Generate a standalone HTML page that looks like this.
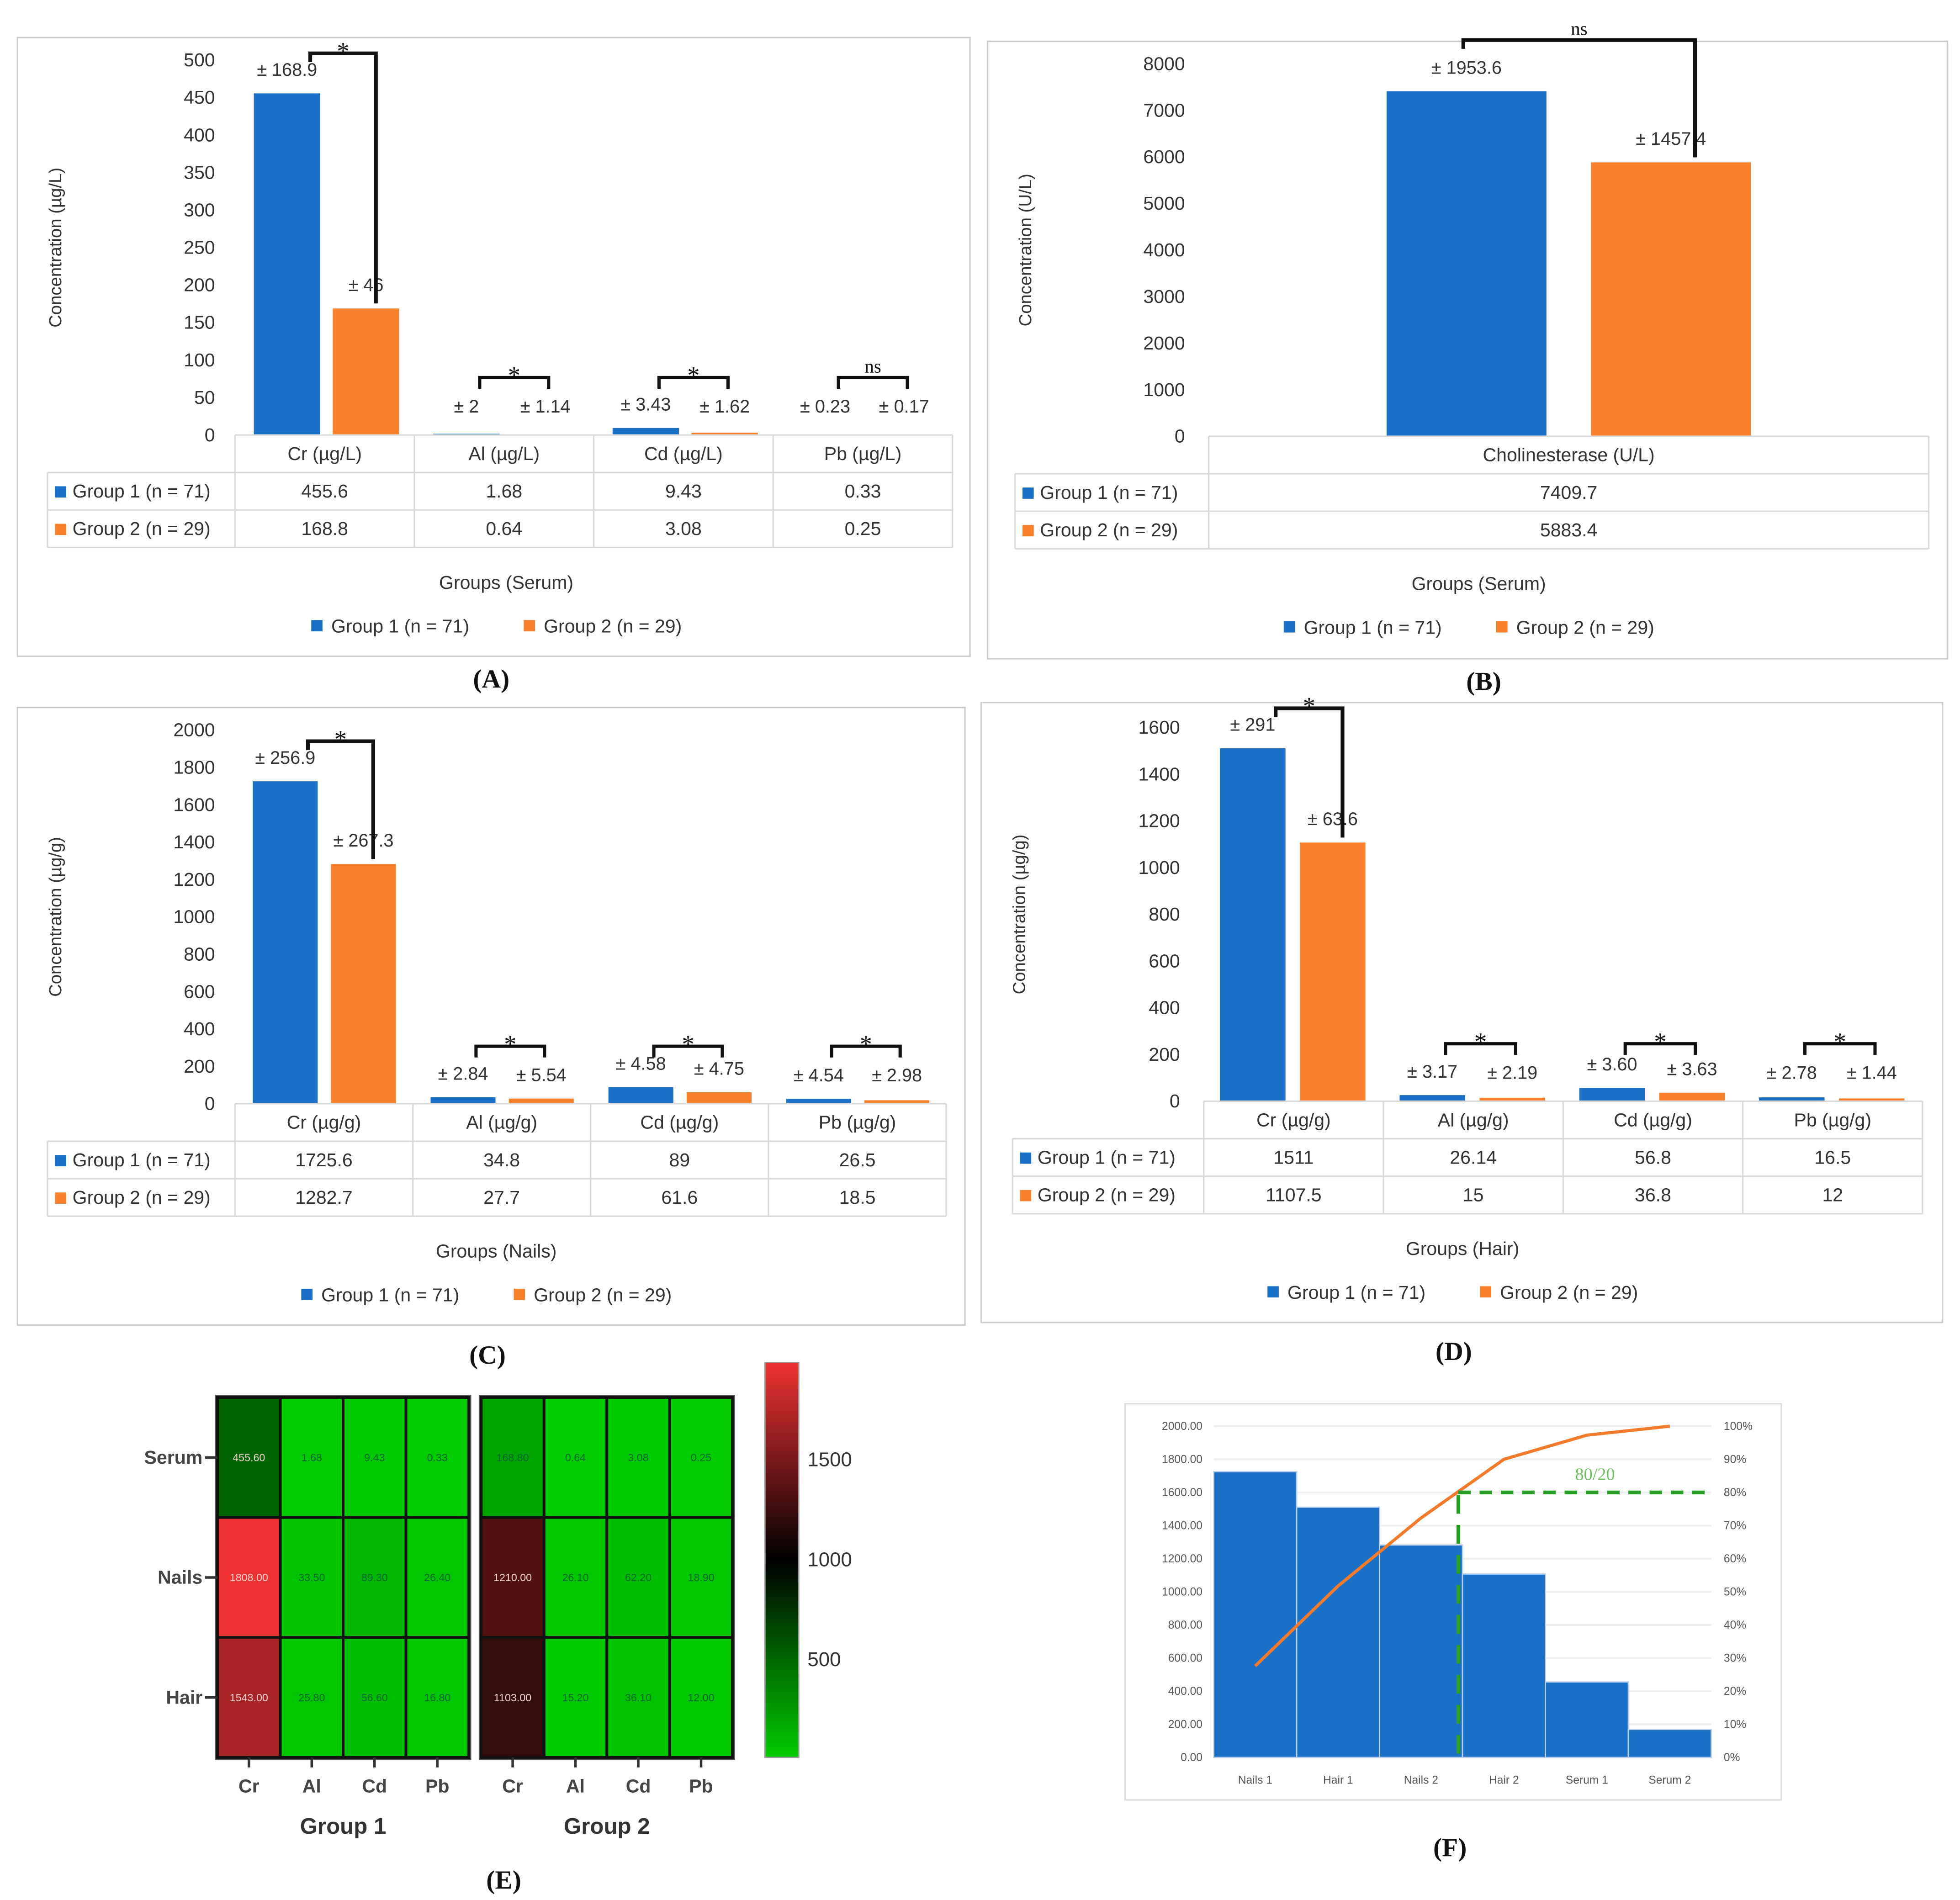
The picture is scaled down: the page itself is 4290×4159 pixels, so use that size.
<!DOCTYPE html>
<html><head><meta charset="utf-8">
<style>
html,body{margin:0;padding:0;background:#fff;}
svg{display:block;}
text{font-family:"Liberation Sans",sans-serif;}
text.serif{font-family:"Liberation Serif",serif;}
</style></head>
<body>
<svg id="fig" width="4290" height="4159" viewBox="0 0 1568 1520" xmlns="http://www.w3.org/2000/svg"></svg>
<script>
// ---------- data ----------
const metalsSerum = ["Cr (µg/L)","Al (µg/L)","Cd (µg/L)","Pb (µg/L)"];
const serumG1 = [455.6,1.68,9.43,0.33];
const serumG2 = [168.8,0.64,3.08,0.25];
const serumErr1 = ["± 168.9","± 2","± 3.43","± 0.23"];
const serumErr2 = ["± 46","± 1.14","± 1.62","± 0.17"];
const serumSig = ["*","*","*","ns"];
const serumTicks = [0,50,100,150,200,250,300,350,400,450,500];

const cholCats = ["Cholinesterase (U/L)"];
const cholG1 = [7409.7];
const cholG2 = [5883.4];
const cholErr1 = ["± 1953.6"];
const cholErr2 = ["± 1457.4"];
const cholSig = ["ns"];
const cholTicks = [0,1000,2000,3000,4000,5000,6000,7000,8000];

const metalsNails = ["Cr (µg/g)","Al (µg/g)","Cd (µg/g)","Pb (µg/g)"];
const nailsG1 = [1725.6,34.8,89,26.5];
const nailsG2 = [1282.7,27.7,61.6,18.5];
const nailsErr1 = ["± 256.9","± 2.84","± 4.58","± 4.54"];
const nailsErr2 = ["± 267.3","± 5.54","± 4.75","± 2.98"];
const nailsSig = ["*","*","*","*"];
const nailsTicks = [0,200,400,600,800,1000,1200,1400,1600,1800,2000];

const metalsHair = ["Cr (µg/g)","Al (µg/g)","Cd (µg/g)","Pb (µg/g)"];
const hairG1 = [1511,26.14,56.8,16.5];
const hairG2 = [1107.5,15,36.8,12];
const hairErr1 = ["± 291","± 3.17","± 3.60","± 2.78"];
const hairErr2 = ["± 63.6","± 2.19","± 3.63","± 1.44"];
const hairSig = ["*","*","*","*"];
const hairTicks = [0,200,400,600,800,1000,1200,1400,1600];

const heatRows = ["Serum","Nails","Hair"];
const heatCols = ["Cr","Al","Cd","Pb"];
const heatG1 = [[455.60,1.68,9.43,0.33],[1808.00,33.50,89.30,26.40],[1543.00,25.80,56.60,16.80]];
const heatG2 = [[168.80,0.64,3.08,0.25],[1210.00,26.10,62.20,18.90],[1103.00,15.20,36.10,12.00]];
const colorbarTicks = [500,1000,1500];

const paretoCats = ["Nails 1","Hair 1","Nails 2","Hair 2","Serum 1","Serum 2"];
const paretoVals = [1725.6,1511,1282.7,1107.5,455.6,168.8];
const paretoTicks = [0,200,400,600,800,1000,1200,1400,1600,1800,2000];
const paretoPctTicks = [0,10,20,30,40,50,60,70,80,90,100];

// ---------- helpers ----------
const NS="http://www.w3.org/2000/svg";
const svg=document.getElementById('fig');
function el(tag,attrs,parent,txt){const e=document.createElementNS(NS,tag);for(const k in attrs)e.setAttribute(k,attrs[k]);if(txt!==undefined)e.textContent=txt;(parent||svg).appendChild(e);return e;}
const BLUE="#1a6fc6", ORANGE="#f8802b", GRID="#d9d9d9", TXT="#333";

function barPanel(cfg){
  const g=el('g',{});
  
  
  const b=el('rect',{x:cfg.box[0],y:cfg.box[1],width:cfg.box[2]-cfg.box[0],height:cfg.box[3]-cfg.box[1],fill:'none',stroke:'#ccc','stroke-width':1.2},g);
  
  const ymax=cfg.ticks[cfg.ticks.length-1];
  const Y=v=>cfg.y0+(cfg.yTop-cfg.y0)*v/ymax;
  const n=cfg.cats.length;
  const cw=(cfg.x1-cfg.x0)/n;
  const X=i=>cfg.x0+i*cw;
  cfg.ticks.forEach(t=>{
    const e=el('text',{x:cfg.tickX,y:Y(t)+5,'text-anchor':'end','font-size':15,fill:TXT},g,String(t));
    
  });
  const yt=el('text',{x:0,y:0,transform:`translate(${cfg.titleX},${(cfg.y0+cfg.yTop)/2}) rotate(-90)`,'text-anchor':'middle','font-size':14,fill:TXT},g,cfg.yTitle);
  
  const bw=cw*cfg.bwFrac, off1=cw*cfg.off1, off2=cw*cfg.off2;
  for(let i=0;i<n;i++){
    const xa=X(i)+off1, xb=X(i)+off2;
    const ya=Y(cfg.g1[i]), yb=Y(cfg.g2[i]);
    const r1=el('rect',{x:xa,y:ya,width:bw,height:cfg.y0-ya,fill:BLUE},g);
    
    const r2=el('rect',{x:xb,y:yb,width:bw,height:cfg.y0-yb,fill:ORANGE},g);
    
    const l1=el('text',{x:xa+bw/2,y:Math.min(ya,cfg.y0-4)-14,'text-anchor':'middle','font-size':14.5,fill:TXT},g,cfg.e1[i]);
    
    const l2=el('text',{x:xb+bw/2,y:Math.min(yb,cfg.y0-4)-14,'text-anchor':'middle','font-size':14.5,fill:TXT},g,cfg.e2[i]);
    
    let top,lx,rx,ll,rl;
    const big=(cfg.y0-ya)>100;
    if(big){
      top=ya-(cfg.bigOff||32); lx=xa+bw*(cfg.lFrac||0.85); rx=xb+bw*0.65; ll=top+7; rl=yb-4;
    }else{
      top=cfg.y0-46; lx=xa+bw*0.7; rx=xb+bw*0.55; ll=top+9; rl=top+9;
    }
    const br=el('path',{d:`M${lx},${ll} L${lx},${top} L${rx},${top} L${rx},${rl}`,fill:'none',stroke:'#111','stroke-width':big?3:2.6},g);
    
    const st=el('text',{class:'serif',x:(lx+rx)/2,y:top-1+(cfg.sig[i]==='*'?6:-3),'text-anchor':'middle','font-size':cfg.sig[i]==='*'?20:15,fill:'#111'},g,cfg.sig[i]);
    
  }
  const rh=30, tb=cfg.y0+rh*3;
  [cfg.y0, cfg.y0+rh].forEach(y=>{const l=el('line',{x1:cfg.labX,x2:cfg.x1,y1:y,y2:y,stroke:GRID,'stroke-width':1.2},g);
    if(y===cfg.y0){l.setAttribute('x1',cfg.x0);}
    });
  [cfg.y0+rh*2, tb].forEach(y=>{const l=el('line',{x1:cfg.labX,x2:cfg.x1,y1:y,y2:y,stroke:GRID,'stroke-width':1.2},g);});
  el('line',{x1:cfg.labX,x2:cfg.labX,y1:cfg.y0+rh,y2:tb,stroke:GRID,'stroke-width':1.2},g);
  for(let i=0;i<=n;i++){const l=el('line',{x1:X(i),x2:X(i),y1:cfg.y0,y2:tb,stroke:GRID,'stroke-width':1.2},g);}
  for(let i=0;i<n;i++){
    const c=X(i)+cw/2;
    const h=el('text',{x:c,y:cfg.y0+20,'text-anchor':'middle','font-size':15,fill:TXT},g,cfg.cats[i]);
    
    const v1=el('text',{x:c,y:cfg.y0+rh+20,'text-anchor':'middle','font-size':15,fill:TXT},g,String(cfg.g1[i]));
    
    const v2=el('text',{x:c,y:cfg.y0+rh*2+20,'text-anchor':'middle','font-size':15,fill:TXT},g,String(cfg.g2[i]));
    
  }
  [[BLUE,'Group 1 (n = 71)',1],[ORANGE,'Group 2 (n = 29)',2]].forEach(([c,t,k])=>{
    const y=cfg.y0+rh*k;
    el('rect',{x:cfg.labX+6,y:y+11,width:9,height:9,fill:c},g);
    const e=el('text',{x:cfg.labX+20,y:y+20,'font-size':15,fill:TXT},g,t);
    
  });
  const xt=el('text',{x:cfg.xTitleX,y:cfg.y0+rh*3+33,'text-anchor':'middle','font-size':15,fill:TXT},g,cfg.xTitle);
  
  const ly=cfg.y0+rh*3+68, lc=cfg.xTitleX;
  const lg=el('g',{},g);
  el('rect',{x:lc-156,y:ly-10,width:9,height:9,fill:BLUE},lg);
  const a=el('text',{x:lc-140,y:ly,'font-size':15,fill:TXT},lg,'Group 1 (n = 71)');
  el('rect',{x:lc+14,y:ly-10,width:9,height:9,fill:ORANGE},lg);
  const bb=el('text',{x:lc+30,y:ly,'font-size':15,fill:TXT},lg,'Group 2 (n = 29)');
  const pl=el('text',{class:'serif',x:cfg.letter[0],y:cfg.letter[1],'text-anchor':'middle','font-size':21,'font-weight':'bold',fill:'#111'},svg,cfg.letter[2]);
  
}

barPanel({name:'panel-a-serum-metals',box:[14,30,776,525],y0:348,yTop:48,x0:188,x1:762,labX:38,tickX:172,titleX:49,
  yTitle:'Concentration (µg/L)',ticks:serumTicks,cats:metalsSerum,g1:serumG1,g2:serumG2,e1:serumErr1,e2:serumErr2,sig:serumSig,
  bwFrac:0.37,off1:0.105,off2:0.545,xTitle:'Groups (Serum)',xTitleX:405,letter:[393,550,'(A)']});
barPanel({name:'panel-b-cholinesterase',box:[790,33,1558,527],y0:349,yTop:51,x0:967,x1:1543,labX:812,tickX:948,titleX:825,
  yTitle:'Concentration (U/L)',ticks:cholTicks,cats:cholCats,g1:cholG1,g2:cholG2,e1:cholErr1,e2:cholErr2,sig:cholSig,
  bwFrac:0.222,off1:0.247,off2:0.531,xTitle:'Groups (Serum)',xTitleX:1183,letter:[1187,552,'(B)'],bigOff:41,lFrac:0.48});
barPanel({name:'panel-c-nails-metals',box:[14,566,772,1060],y0:883,yTop:584,x0:188,x1:757,labX:38,tickX:172,titleX:49,
  yTitle:'Concentration (µg/g)',ticks:nailsTicks,cats:metalsNails,g1:nailsG1,g2:nailsG2,e1:nailsErr1,e2:nailsErr2,sig:nailsSig,
  bwFrac:0.365,off1:0.1,off2:0.54,xTitle:'Groups (Nails)',xTitleX:397,letter:[390,1091,'(C)']});
barPanel({name:'panel-d-hair-metals',box:[785,562,1554,1058],y0:881,yTop:582,x0:963,x1:1538,labX:810,tickX:944,titleX:820,
  yTitle:'Concentration (µg/g)',ticks:hairTicks,cats:metalsHair,g1:hairG1,g2:hairG2,e1:hairErr1,e2:hairErr2,sig:hairSig,
  bwFrac:0.365,off1:0.09,off2:0.535,xTitle:'Groups (Hair)',xTitleX:1170,letter:[1163,1088,'(D)']});

// ---------- heatmap ----------
(function(){
  const g=el('g',{});
  const top=1118,bot=1406,rowH=(bot-top)/3,cellW=50.25;
  const vmax=1808;
  function col(v){const t=v/vmax;
    if(t<=0.5){const k=1-t/0.5;return `rgb(0,${Math.round(204*k)},0)`;}
    const k=(t-0.5)/0.5;return `rgb(${Math.round(238*k)},${Math.round(50*k)},${Math.round(50*k)})`;}
  [[174,heatG1],[385,heatG2]].forEach(([x0,data],gi)=>{
    el('rect',{x:x0-2,y:top-2,width:cellW*4+4,height:bot-top+4,fill:'#555'},g);
    for(let r=0;r<3;r++)for(let c=0;c<4;c++){
      const v=data[r][c];
      const rc=el('rect',{x:x0+c*cellW,y:top+r*rowH,width:cellW,height:rowH,fill:col(v),stroke:'#111','stroke-width':2.2},g);
      
      const t=el('text',{x:x0+c*cellW+cellW/2,y:top+r*rowH+rowH/2+3,'text-anchor':'middle','font-size':8.5,fill:v>300?'#f0d0d0':'#063'},g,v.toFixed(2));
      
    }
    heatCols.forEach((c,i)=>{
      const cx=x0+i*cellW+cellW/2;
      el('line',{x1:cx,x2:cx,y1:bot,y2:bot+8,stroke:'#333','stroke-width':2},g);
      const t=el('text',{x:cx,y:bot+28,'text-anchor':'middle','font-size':15,'font-weight':'bold',fill:'#444'},g,c);
      
    });
    const gl=el('text',{x:x0+cellW*2,y:1467,'text-anchor':'middle','font-size':18,'font-weight':'bold',fill:'#333'},g,'Group '+(gi+1));
    
  });
  heatRows.forEach((r,i)=>{
    const cy=top+i*rowH+rowH/2;
    el('line',{x1:164,x2:174,y1:cy,y2:cy,stroke:'#333','stroke-width':2},g);
    const t=el('text',{x:162,y:cy+5,'text-anchor':'end','font-size':15,'font-weight':'bold',fill:'#444'},g,r);
    
  });
  const defs=el('defs',{},g);
  const lg=el('linearGradient',{id:'cb',x1:0,y1:1,x2:0,y2:0},defs);
  el('stop',{offset:'0',  'stop-color':'rgb(0,204,0)'},lg);
  el('stop',{offset:'0.5','stop-color':'rgb(0,0,0)'},lg);
  el('stop',{offset:'1',  'stop-color':'rgb(238,50,50)'},lg);
  const cb=el('rect',{x:612,y:top-28,width:27,height:bot-top+28,fill:'url(#cb)',stroke:'#999','stroke-width':1},g);
  
  colorbarTicks.forEach(v=>{
    const yy=bot-(v/1000)*160+1;
    const t=el('text',{x:646,y:yy+6,'font-size':16,fill:'#333'},g,String(v));
    
  });
  const pl=el('text',{class:'serif',x:403,y:1511,'text-anchor':'middle','font-size':21,'font-weight':'bold',fill:'#111'},svg,'(E)');
  
})();

// ---------- pareto ----------
(function(){
  const g=el('g',{});
  el('rect',{x:900,y:1123,width:525,height:317,fill:'#fff',stroke:'#ddd','stroke-width':1.2},g);
  const x0=971,x1=1369,y0=1406,yT=1141;
  const ymax=paretoTicks[paretoTicks.length-1];
  const Y=v=>y0-(y0-yT)*v/ymax;
  const P=p=>y0-(y0-yT)*p/100;
  const bw=(x1-x0)/paretoCats.length;
  paretoTicks.forEach(t=>{
    el('line',{x1:x0,x2:x1,y1:Y(t),y2:Y(t),stroke:'#eee','stroke-width':1.5},g);
    const e=el('text',{x:962,y:Y(t)+3,'text-anchor':'end','font-size':9,fill:'#555'},g,t.toFixed(2));
    
  });
  paretoPctTicks.forEach(p=>{
    const e=el('text',{x:1379,y:P(p)+3,'font-size':9,fill:'#555'},g,p+'%');
    
  });
  const total=paretoVals.reduce((a,b)=>a+b,0);
  let cum=0;const pts=[];
  paretoVals.forEach((v,i)=>{
    const r=el('rect',{x:x0+i*bw,y:Y(v),width:bw,height:y0-Y(v),fill:'#1a6fc6',stroke:'#b8cfee','stroke-width':1},g);
    
    const t=el('text',{x:x0+i*bw+bw/2,y:1427,'text-anchor':'middle','font-size':9,fill:'#555'},g,paretoCats[i]);
    
    cum+=v;pts.push([x0+i*bw+bw/2,P(cum/total*100)]);
  });
  const ln=el('polyline',{points:pts.map(p=>p.join(',')).join(' '),fill:'none',stroke:'#f47b2c','stroke-width':2.5},g);
  
  const vx=x0+bw*2.95;
  const h=el('line',{x1:vx,x2:x1,y1:P(80),y2:P(80),stroke:'#2aa02a','stroke-width':3,'stroke-dasharray':'10,7'},g);
  
  const v=el('line',{x1:vx,x2:vx,y1:P(80)+2,y2:y0,stroke:'#2aa02a','stroke-width':3,'stroke-dasharray':'15,9'},g);
  
  const lb=el('text',{class:'serif',x:1276,y:1184,'text-anchor':'middle','font-size':14,fill:'#6cbf5c'},g,'80/20');
  
  const pl=el('text',{class:'serif',x:1160,y:1485,'text-anchor':'middle','font-size':21,'font-weight':'bold',fill:'#111'},svg,'(F)');
  
})();
</script>
</body></html>
